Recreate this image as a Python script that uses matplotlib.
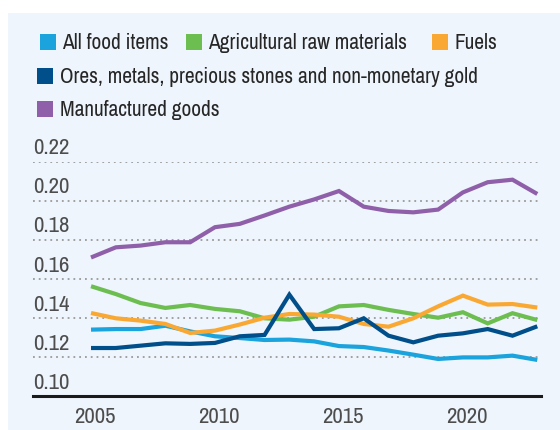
import matplotlib
matplotlib.use("Agg")
import matplotlib.pyplot as plt
from matplotlib.patches import Rectangle
from matplotlib.transforms import ScaledTranslation

plt.rcParams["font.family"] = ["Archivo Narrow", "DejaVu Sans"]

years = list(range(2005, 2024))

food = [0.1341, 0.1344, 0.1344, 0.1361, 0.1332, 0.1307, 0.1298, 0.1288, 0.1290, 0.1281,
        0.1257, 0.1252, 0.1234, 0.1213, 0.1191, 0.1199, 0.1199, 0.1208, 0.1186]
agri = [0.1563, 0.1523, 0.1477, 0.1452, 0.1467, 0.1447, 0.1435, 0.1399, 0.1392, 0.1407,
        0.1460, 0.1467, 0.1442, 0.1421, 0.1402, 0.1430, 0.1373, 0.1425, 0.1390]
fuels = [0.1426, 0.1399, 0.1387, 0.1370, 0.1324, 0.1336, 0.1367, 0.1402, 0.1421, 0.1418,
         0.1407, 0.1370, 0.1356, 0.1399, 0.1460, 0.1515, 0.1469, 0.1472, 0.1454]
ores = [0.1247, 0.1247, 0.1259, 0.1271, 0.1268, 0.1273, 0.1307, 0.1314, 0.1520, 0.1344,
        0.1348, 0.1399, 0.1310, 0.1276, 0.1310, 0.1322, 0.1344, 0.1310, 0.1358]
manuf = [0.1710, 0.1762, 0.1771, 0.1788, 0.1788, 0.1865, 0.1882, 0.1925, 0.1970, 0.2007,
         0.2050, 0.1970, 0.1948, 0.1941, 0.1955, 0.2043, 0.2095, 0.2108, 0.2035]

series_names = ["All food items", "Agricultural raw materials", "Fuels",
                "Ores, metals, precious stones and non-monetary gold", "Manufactured goods"]
colors = ["#1aa3dc", "#6dbe50", "#f9a933", "#004f8a", "#8f60a9"]

yticks = [0.10, 0.12, 0.14, 0.16, 0.18, 0.20, 0.22]
xticks = [2005, 2010, 2015, 2020]

W, H = 560, 431
fig = plt.figure(figsize=(W / 100, H / 100), dpi=100)
fig.patch.set_facecolor("white")

# light blue panel
fig.patches.append(Rectangle((8 / W, 0), 1 - 8 / W, (H - 14) / H,
                             transform=fig.transFigure, facecolor="#eef5fc",
                             edgecolor="none", zorder=-10))

ax = fig.add_axes([33 / W, (H - 397.3) / H, (541 - 33) / W, (397.3 - 162.7) / H])
ax.set_zorder(2)
ax.set_facecolor("none")
ax.set_xlim(2002.66, 2023.15)
ax.set_ylim(0.10, 0.22)

for v in yticks[1:]:
    ax.axhline(v, color="#9a9a9a", lw=1.3, ls=(0, (1, 2.2)), zorder=1)
ax.axhline(0.10, color="#1a1a1a", lw=2.2, zorder=5, clip_on=False)

for vals, c in zip([food, agri, fuels, ores, manuf], colors):
    ax.plot(years, vals, color=c, lw=3, solid_capstyle="butt", solid_joinstyle="miter", zorder=3)

for s in ax.spines.values():
    s.set_visible(False)
ax.set_yticks([])
ax.set_xticks(xticks)
ax.set_xticklabels([str(x) for x in xticks], fontsize=16.5, color="#4d4d4d")
ax.tick_params(axis="x", length=0, pad=7)
off = ScaledTranslation(4 / 100, 0, fig.dpi_scale_trans)
for lbl in ax.get_xticklabels():
    lbl.set_transform(lbl.get_transform() + off)

# y labels above gridlines
for v in yticks:
    ax.text(0, v + 0.0043, f"{v:.2f}", transform=ax.get_yaxis_transform(),
            ha="left", va="baseline", fontsize=16.5, color="#4d4d4d")

# legend
legend_rows = [
    [(0, 40, 62), (1, 186, 208), (2, 432, 454)],
    [(3, 37, 60)],
    [(4, 37, 60)],
]
row_y = [43, 77, 110]
for row, yc in zip(legend_rows, row_y):
    for idx, sx, tx in row:
        fig.patches.append(Rectangle((sx / W, (H - yc - 8) / H), 16 / W, 16 / H,
                                     transform=fig.transFigure, facecolor=colors[idx],
                                     edgecolor="none"))
        fig.text(tx / W, (H - yc) / H, series_names[idx], fontsize=15.4,
                 color="#262626", ha="left", va="center")

fig.savefig("out.png", dpi=100)
